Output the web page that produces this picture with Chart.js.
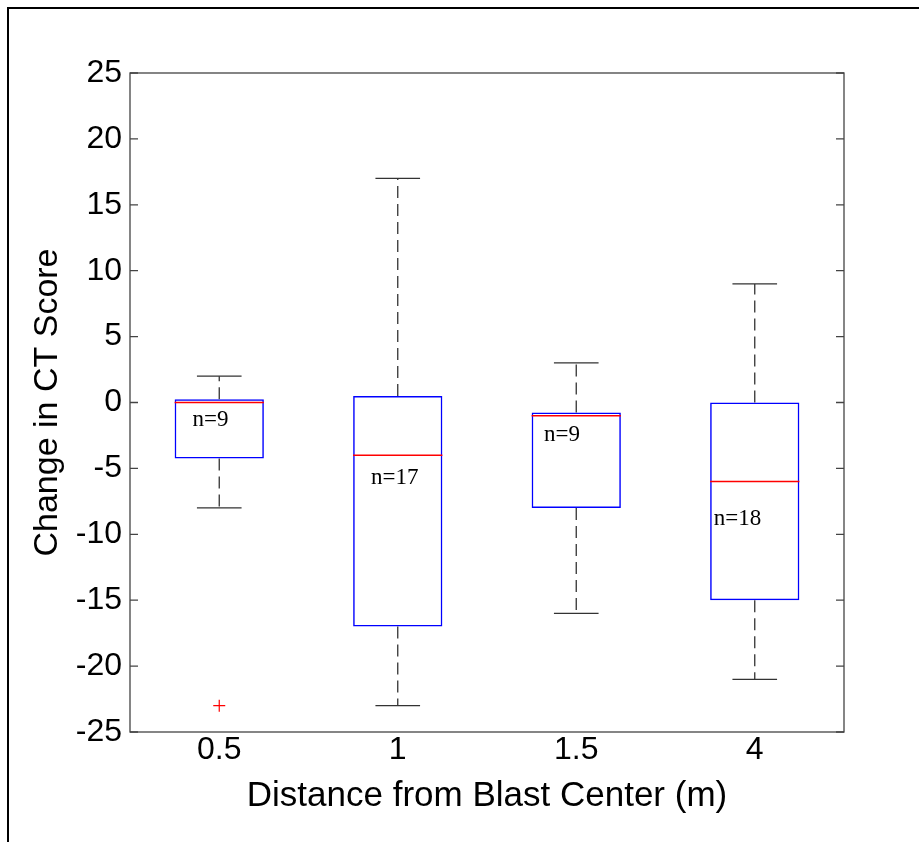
<!DOCTYPE html>
<html>
<head>
<meta charset="utf-8">
<script src="https://cdn.jsdelivr.net/npm/chart.js@4.4.1/dist/chart.umd.min.js"></script>
<style>
  html, body { margin: 0; padding: 0; background: #fff; overflow: hidden; }
  #wrap { position: relative; width: 919px; height: 842px; }
  #frame {
    position: absolute; left: 7px; top: 7px; width: 930px; height: 860px;
    border-left: 2px solid #000; border-top: 2px solid #000; pointer-events: none;
  }
</style>
</head>
<body>
<div id="wrap">
  <canvas id="chart" width="919" height="842"></canvas>
  <div id="frame"></div>
</div>
<script>
// distances (m)
const categories = ["0.5", "1", "1.5", "4"];

// box plot stats per distance
const lowerWhisker = [-8, -23, -16, -21];
const q1 = [-4.25, -17, -8, -15];
const median = [0, -4, -1, -6];
const q3 = [0.25, 0.5, -0.75, 0];
const upperWhisker = [2, 17, 3, 9];

// outliers
const outlierCategory = ["0.5"];
const outlierValue = [-23];

// sample size notes
const noteText = ["n=9", "n=17", "n=9", "n=18"];
const noteX = [-0.15, 0.85, 1.82, 2.77];
const noteY = [-1.3, -5.7, -2.5, -8.85];

const yTicks = [-25, -20, -15, -10, -5, 0, 5, 10, 15, 20, 25];

const sansFont = "'Liberation Sans', Arial, sans-serif";

const boxExtras = {
  id: "boxExtras",
  afterDatasetsDraw(chart) {
    const { ctx, chartArea, scales } = chart;
    const x = scales.x;
    const y = scales.y;
    const catWidth = x.getPixelForValue(1) - x.getPixelForValue(0);
    const boxHalf = catWidth * 0.25;
    const capHalf = catWidth * 0.125;

    ctx.save();
    categories.forEach((cat, i) => {
      const cx = x.getPixelForValue(i);

      // dashed whiskers
      ctx.strokeStyle = "#333";
      ctx.lineWidth = 1.3;
      ctx.setLineDash([12, 6]);
      ctx.beginPath();
      ctx.moveTo(cx, y.getPixelForValue(q3[i]));
      ctx.lineTo(cx, y.getPixelForValue(upperWhisker[i]));
      ctx.moveTo(cx, y.getPixelForValue(q1[i]));
      ctx.lineTo(cx, y.getPixelForValue(lowerWhisker[i]));
      ctx.stroke();

      // caps
      ctx.setLineDash([]);
      ctx.beginPath();
      ctx.moveTo(cx - capHalf, y.getPixelForValue(upperWhisker[i]));
      ctx.lineTo(cx + capHalf, y.getPixelForValue(upperWhisker[i]));
      ctx.moveTo(cx - capHalf, y.getPixelForValue(lowerWhisker[i]));
      ctx.lineTo(cx + capHalf, y.getPixelForValue(lowerWhisker[i]));
      ctx.stroke();

      // median
      ctx.strokeStyle = "#ff0000";
      ctx.lineWidth = 1.5;
      ctx.beginPath();
      ctx.moveTo(cx - boxHalf, y.getPixelForValue(median[i]));
      ctx.lineTo(cx + boxHalf, y.getPixelForValue(median[i]));
      ctx.stroke();
    });

    // n= notes
    ctx.fillStyle = "#000";
    ctx.font = "23px 'Liberation Serif', 'Times New Roman', serif";
    ctx.textAlign = "left";
    ctx.textBaseline = "middle";
    noteText.forEach((t, i) => {
      ctx.fillText(t, x.getPixelForValue(noteX[i]), y.getPixelForValue(noteY[i]));
    });

    // axes box with inward ticks
    ctx.strokeStyle = "#444";
    ctx.lineWidth = 1.3;
    ctx.strokeRect(chartArea.left, chartArea.top, chartArea.right - chartArea.left, chartArea.bottom - chartArea.top);
    ctx.beginPath();
    yTicks.forEach((v) => {
      const py = y.getPixelForValue(v);
      ctx.moveTo(chartArea.left, py);
      ctx.lineTo(chartArea.left + 8, py);
      ctx.moveTo(chartArea.right, py);
      ctx.lineTo(chartArea.right - 8, py);
    });
    ctx.stroke();
    ctx.restore();
  },
};

new Chart(document.getElementById("chart"), {
  type: "bar",
  data: {
    labels: categories,
    datasets: [
      {
        label: "box",
        data: q1.map((v, i) => [v, q3[i]]),
        backgroundColor: "rgba(255,255,255,0)",
        borderColor: "#0000ff",
        borderWidth: 1.5,
        borderSkipped: false,
        barPercentage: 0.5,
        categoryPercentage: 1,
      },
      {
        type: "scatter",
        label: "outliers",
        data: outlierCategory.map((c, i) => ({ x: c, y: outlierValue[i] })),
        pointStyle: "cross",
        radius: 6,
        borderColor: "#ff0000",
        borderWidth: 1.2,
      },
    ],
  },
  options: {
    responsive: false,
    animation: false,
    layout: { padding: { top: 73, right: 75, left: 0, bottom: 0 } },
    plugins: {
      legend: { display: false },
      tooltip: { enabled: false },
    },
    scales: {
      x: {
        type: "category",
        offset: true,
        grid: { display: false, drawTicks: false },
        border: { display: false },
        ticks: { color: "#000", font: { family: sansFont, size: 32 }, padding: -1 },
        title: {
          display: true,
          text: "Distance from Blast Center (m)",
          color: "#000",
          font: { family: sansFont, size: 35 },
          padding: { bottom: 25 },
        },
        afterFit: (scale) => { scale.height = 110; },
      },
      y: {
        min: -25,
        max: 25,
        grid: { display: false, drawTicks: false },
        border: { display: false },
        ticks: { stepSize: 5, color: "#000", font: { family: sansFont, size: 32 }, padding: 8 },
        title: {
          display: true,
          text: "Change in CT Score",
          color: "#000",
          font: { family: sansFont, size: 34 },
          padding: { top: 27 },
        },
        afterFit: (scale) => { scale.width = 130; },
      },
    },
  },
  plugins: [boxExtras],
});
</script>
</body>
</html>
